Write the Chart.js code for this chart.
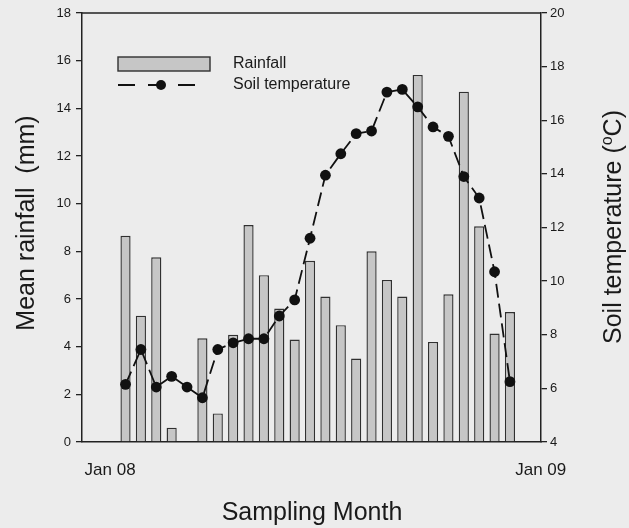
<!DOCTYPE html>
<html>
<head>
<meta charset="utf-8">
<script src="https://cdn.jsdelivr.net/npm/chart.js@4"></script>
<style>
  html, body { margin: 0; padding: 0; background: #ececec; }
  #wrap { width: 629px; height: 528px; position: relative; }
</style>
</head>
<body>
<div id="wrap"><canvas id="c"></canvas></div>
<script>
// ---- data ----
const seriesNames = ['Rainfall', 'Soil temperature'];
// one entry per sampling date (roughly fortnightly through 2008); null = no bar
const rainfall = [8.65, 5.3, 7.75, 0.6, null, 4.35, 1.2, 4.5, 9.1, 7.0, 5.6, 4.3, 7.6,
                  6.1, 4.9, 3.5, 8.0, 6.8, 6.1, 15.4, 4.2, 6.2, 14.7, 9.05, 4.55, 5.45];
const soilTemp = [6.15, 7.45, 6.05, 6.45, 6.05, 5.65, 7.45, 7.7, 7.85, 7.85, 8.7, 9.3, 11.6,
                  13.95, 14.75, 15.5, 15.6, 17.05, 17.15, 16.5, 15.75, 15.4, 13.9, 13.1, 10.35, 6.25];
const xTickValues = [-1, 27];          // in sample-index units
const xTickLabels = ['Jan 08', 'Jan 09'];
const xRange = [-2.83, 27.02];
const rainTicks = { min: 0, max: 18, step: 2 };
const tempTicks = { min: 4, max: 20, step: 2 };
const titles = { x: 'Sampling Month', y: 'Mean rainfall  (mm)', y1pre: 'Soil temperature (', y1sup: 'o', y1post: 'C)' };

// ---- styles ----
const FONT = '"Liberation Sans", Arial, Helvetica, sans-serif';
const INK = '#1a1a1a';
const AXIS = '#222222';
const BAR_FILL = '#c6c6c6';
const BAR_EDGE = '#303030';

const rainPts = rainfall.map((v, i) => ({ x: i, y: v }));
const tempPts = soilTemp.map((v, i) => ({ x: i, y: v }));

const decor = {
  id: 'decor',
  afterDraw(chart) {
    const ctx = chart.ctx, a = chart.chartArea;
    ctx.save();
    // top frame line
    ctx.strokeStyle = AXIS; ctx.lineWidth = 1.5;
    ctx.beginPath(); ctx.moveTo(a.left, a.top); ctx.lineTo(a.right, a.top); ctx.stroke();

    // legend
    ctx.fillStyle = BAR_FILL; ctx.strokeStyle = BAR_EDGE; ctx.lineWidth = 1.4;
    ctx.fillRect(118, 57, 92, 14); ctx.strokeRect(118, 57, 92, 14);
    ctx.strokeStyle = '#111'; ctx.lineWidth = 1.8; ctx.setLineDash([17, 13]);
    ctx.beginPath(); ctx.moveTo(118, 85); ctx.lineTo(198, 85); ctx.stroke();
    ctx.setLineDash([]);
    ctx.fillStyle = '#111';
    ctx.beginPath(); ctx.arc(161, 85, 5, 0, Math.PI * 2); ctx.fill();
    ctx.fillStyle = INK; ctx.font = '16px ' + FONT; ctx.textBaseline = 'middle'; ctx.textAlign = 'left';
    ctx.fillText(seriesNames[0], 233, 64);
    ctx.fillText(seriesNames[1], 233, 85);

    // axis titles
    ctx.textBaseline = 'alphabetic';
    ctx.font = '25px ' + FONT;
    ctx.textAlign = 'center';
    ctx.fillText(titles.x, 312, 520);

    // left title
    ctx.save();
    ctx.translate(34, 223); ctx.rotate(-Math.PI / 2);
    ctx.fillText(titles.y, 0, 0);
    ctx.restore();

    // right title with superscript
    ctx.save();
    ctx.translate(621, 227); ctx.rotate(-Math.PI / 2);
    const big = '25px ' + FONT, small = '16px ' + FONT;
    ctx.font = big; const w1 = ctx.measureText(titles.y1pre).width; const w3 = ctx.measureText(titles.y1post).width;
    ctx.font = small; const w2 = ctx.measureText(titles.y1sup).width;
    let x0 = -(w1 + w2 + w3) / 2;
    ctx.textAlign = 'left';
    ctx.font = big; ctx.fillText(titles.y1pre, x0, 0);
    ctx.font = small; ctx.fillText(titles.y1sup, x0 + w1, -9);
    ctx.font = big; ctx.fillText(titles.y1post, x0 + w1 + w2, 0);
    ctx.restore();

    ctx.restore();
  }
};

new Chart(document.getElementById('c'), {
  type: 'bar',
  data: {
    datasets: [
      {
        type: 'line', label: seriesNames[1], data: tempPts, yAxisID: 'y1', order: 0,
        borderColor: '#111', borderWidth: 1.8, borderDash: [14, 6],
        pointRadius: 5.4, pointBackgroundColor: '#111', pointBorderColor: '#111', pointBorderWidth: 0,
        tension: 0, fill: false
      },
      {
        type: 'bar', label: seriesNames[0], data: rainPts, yAxisID: 'y', order: 1,
        backgroundColor: BAR_FILL, borderColor: BAR_EDGE, borderWidth: 1.4,
        barPercentage: 0.66, categoryPercentage: 1.0
      }
    ]
  },
  options: {
    responsive: true, maintainAspectRatio: false, animation: false,
    layout: { padding: { top: 13, left: 0, right: 0, bottom: 0 } },
    plugins: { legend: { display: false }, tooltip: { enabled: false } },
    scales: {
      x: {
        type: 'linear', min: xRange[0], max: xRange[1], offset: false,
        grid: { display: false, drawTicks: false },
        border: { display: true, color: AXIS, width: 1.5 },
        afterBuildTicks: s => { s.ticks = xTickValues.map(v => ({ value: v })); },
        afterFit: s => { s.height = 86; },
        ticks: {
          autoSkip: false, maxRotation: 0, padding: 18, color: INK,
          font: { family: FONT, size: 17 },
          callback: (v) => { const k = xTickValues.indexOf(v); return k >= 0 ? xTickLabels[k] : ''; }
        }
      },
      y: {
        position: 'left', min: rainTicks.min, max: rainTicks.max,
        grid: { display: true, drawOnChartArea: false, drawTicks: true, tickLength: 6, color: AXIS, lineWidth: 1.3 },
        border: { display: true, color: AXIS, width: 1.5 },
        afterFit: s => { s.width = 82; },
        ticks: { stepSize: rainTicks.step, padding: 5, color: INK, font: { family: FONT, size: 13 } }
      },
      y1: {
        position: 'right', min: tempTicks.min, max: tempTicks.max,
        grid: { display: true, drawOnChartArea: false, drawTicks: true, tickLength: 6, color: AXIS, lineWidth: 1.3 },
        border: { display: true, color: AXIS, width: 1.5 },
        afterFit: s => { s.width = 88; },
        ticks: { stepSize: tempTicks.step, padding: 3, color: INK, font: { family: FONT, size: 13 } }
      }
    }
  },
  plugins: [decor]
});
</script>
</body>
</html>
